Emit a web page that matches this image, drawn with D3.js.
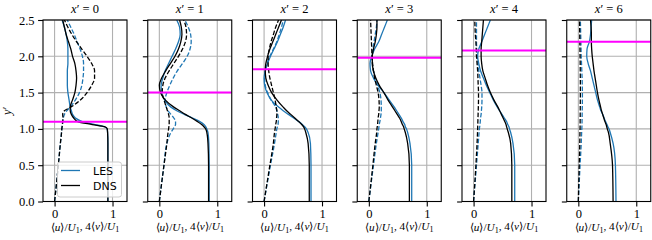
<!DOCTYPE html>
<html><head><meta charset="utf-8">
<script src="https://cdn.jsdelivr.net/npm/d3@7"></script>
<style>
html,body{margin:0;padding:0;background:#fff;}
svg{display:block;}
</style></head>
<body><div id="chart"></div>
<script>
// ---------------- data ----------------
const panelLabels = ["0", "1", "2", "3", "4", "6"];
const interfaceY = [1.10, 1.50, 1.82, 1.98, 2.08, 2.20];
const yGrid = [0, 0.5, 0.8, 0.95, 1.0, 1.03, 1.06, 1.1, 1.15, 1.2, 1.25, 1.3, 1.4, 1.5, 1.6, 1.7, 1.8, 1.9, 2.0, 2.1, 2.2, 2.3, 2.4, 2.5];
const yTicks = [0, 0.5, 1.0, 1.5, 2.0, 2.5];
const xTicks = [0, 1];

// <u>/U1, LES
const lesU = [
  [0.92,0.92,0.92,0.915,0.905,0.86,0.70,0.48,0.36,0.31,0.29,0.27,0.25,0.23,0.22,0.22,0.22,0.23,0.23,0.23,0.22,0.20,0.17,0.13],
  [0.86,0.86,0.855,0.84,0.82,0.80,0.77,0.70,0.57,0.43,0.30,0.20,0.09,0.04,0.03,0.06,0.10,0.16,0.22,0.28,0.33,0.36,0.35,0.30],
  [0.81,0.81,0.80,0.76,0.73,0.70,0.66,0.60,0.51,0.42,0.33,0.25,0.12,0.05,0.01,0.00,0.02,0.06,0.11,0.17,0.23,0.28,0.33,0.37],
  [0.74,0.74,0.71,0.67,0.65,0.63,0.62,0.59,0.56,0.52,0.48,0.44,0.35,0.26,0.16,0.08,0.03,0.02,0.05,0.10,0.17,0.22,0.27,0.32],
  [0.71,0.71,0.68,0.64,0.62,0.61,0.59,0.57,0.53,0.49,0.45,0.41,0.34,0.28,0.22,0.17,0.12,0.09,0.07,0.09,0.14,0.19,0.24,0.29],
  [0.65,0.64,0.60,0.55,0.53,0.51,0.495,0.47,0.445,0.42,0.39,0.37,0.33,0.30,0.27,0.24,0.21,0.17,0.145,0.15,0.19,0.21,0.22,0.23]
];
// 4<v>/U1, LES
const lesV = [
  [0.0,0.065,0.10,0.12,0.125,0.13,0.135,0.14,0.15,0.17,0.21,0.27,0.36,0.43,0.47,0.49,0.50,0.50,0.48,0.44,0.39,0.34,0.28,0.22],
  [0.0,0.08,0.13,0.20,0.24,0.26,0.28,0.28,0.25,0.20,0.15,0.12,0.10,0.13,0.18,0.24,0.31,0.40,0.48,0.53,0.55,0.54,0.50,0.44],
  [0.0,0.11,0.18,0.21,0.22,0.23,0.24,0.245,0.245,0.235,0.22,0.20,0.12,0.06,0.02,0.01,0.02,0.05,0.10,0.16,0.22,0.26,0.30,0.33],
  [0.0,0.08,0.13,0.16,0.17,0.175,0.18,0.19,0.20,0.21,0.215,0.215,0.21,0.19,0.15,0.11,0.08,0.06,0.06,0.07,0.09,0.11,0.13,0.14],
  [0.0,0.05,0.08,0.095,0.10,0.105,0.11,0.115,0.12,0.13,0.135,0.14,0.145,0.145,0.13,0.11,0.09,0.075,0.06,0.055,0.05,0.05,0.05,0.05],
  [0.0,0.03,0.05,0.057,0.06,0.062,0.063,0.064,0.065,0.066,0.067,0.068,0.07,0.07,0.068,0.065,0.06,0.055,0.05,0.047,0.044,0.041,0.038,0.035]
];
// <u>/U1, DNS
const dnsU = [
  [0.92,0.92,0.92,0.915,0.91,0.86,0.65,0.40,0.33,0.29,0.27,0.27,0.31,0.35,0.37,0.38,0.37,0.35,0.31,0.28,0.24,0.20,0.17,0.14],
  [0.85,0.85,0.84,0.82,0.80,0.77,0.73,0.66,0.56,0.45,0.35,0.25,0.10,0.02,0.00,0.04,0.11,0.19,0.27,0.33,0.37,0.39,0.38,0.35],
  [0.78,0.78,0.76,0.72,0.70,0.68,0.65,0.60,0.53,0.46,0.39,0.33,0.22,0.13,0.07,0.03,0.02,0.03,0.06,0.10,0.15,0.20,0.25,0.30],
  [0.70,0.70,0.67,0.63,0.61,0.60,0.58,0.56,0.53,0.49,0.45,0.41,0.33,0.26,0.18,0.12,0.08,0.06,0.06,0.08,0.11,0.13,0.14,0.14],
  [0.66,0.66,0.64,0.60,0.58,0.57,0.56,0.54,0.51,0.48,0.45,0.42,0.35,0.29,0.24,0.20,0.16,0.14,0.13,0.13,0.14,0.15,0.16,0.17],
  [0.60,0.59,0.55,0.52,0.50,0.49,0.48,0.46,0.44,0.42,0.40,0.385,0.355,0.33,0.31,0.29,0.27,0.255,0.24,0.23,0.225,0.225,0.22,0.21]
];
// 4<v>/U1, DNS
const dnsV = [
  [0.0,0.065,0.10,0.12,0.125,0.13,0.135,0.14,0.145,0.14,0.17,0.28,0.45,0.56,0.64,0.69,0.69,0.64,0.56,0.47,0.38,0.30,0.23,0.17],
  [0.0,0.08,0.13,0.15,0.16,0.165,0.17,0.17,0.17,0.16,0.14,0.12,0.08,0.05,0.06,0.10,0.17,0.25,0.33,0.40,0.45,0.47,0.46,0.42],
  [0.0,0.10,0.16,0.18,0.19,0.195,0.20,0.21,0.215,0.22,0.22,0.21,0.19,0.16,0.13,0.10,0.08,0.07,0.07,0.09,0.12,0.16,0.20,0.25],
  [0.0,0.07,0.11,0.135,0.14,0.145,0.15,0.155,0.16,0.17,0.175,0.18,0.175,0.16,0.13,0.10,0.08,0.065,0.055,0.05,0.045,0.04,0.035,0.03],
  [0.0,0.04,0.06,0.068,0.07,0.071,0.072,0.074,0.076,0.078,0.08,0.082,0.085,0.085,0.08,0.075,0.07,0.06,0.05,0.045,0.04,0.03,0.025,0.02],
  [0.0,0.015,0.025,0.028,0.03,0.03,0.031,0.031,0.032,0.032,0.033,0.033,0.034,0.035,0.035,0.034,0.033,0.032,0.03,0.028,0.026,0.024,0.022,0.02]
];

// ---------------- font pick (serif if installed) ----------------
function hasFont(name) {
  const c = document.createElement("canvas").getContext("2d");
  const s = "abcdefghijWMil0123456789.";
  const res = ["monospace", "sans-serif"].map(b => {
    c.font = `40px ${b}`; const w0 = c.measureText(s).width;
    c.font = `40px "${name}", ${b}`; const w1 = c.measureText(s).width;
    return Math.abs(w0 - w1) > 0.5;
  });
  return res[0] && res[1];
}
const serifCands = ["Liberation Serif", "DejaVu Serif", "Noto Serif", "Tinos", "FreeSerif", "Times New Roman", "Georgia"];
const serifFound = serifCands.find(hasFont);
const MATHFONT = serifFound ? `"${serifFound}", serif` : "\"DejaVu Sans\", sans-serif";
const mathSize = serifFound === "DejaVu Serif" ? 10.5 : (serifFound ? 12.5 : 11);

// ---------------- layout ----------------
const W = 652, H = 240;
const left0 = 43, step = 104.75, pw = 84, topY = 20, botY = 201.5;
const BLUE = "#1f77b4", MAG = "#ff00ff";

const svg = d3.select("#chart").append("svg").attr("width", W).attr("height", H);
const y = d3.scaleLinear().domain([0, 2.5]).range([botY, topY]);

function mathLabel(sel, parts) {
  parts.forEach(p => {
    const t = sel.append("tspan").text(p.t);
    if (p.i) t.style("font-style", "italic");
    if (p.sub) t.attr("font-size", "0.72em").attr("dy", "0.22em");
    if (p.unsub) t.attr("dy", "-0.22em");
  });
}

panelLabels.forEach((lab, k) => {
  const x0 = left0 + k * step;
  const x = d3.scaleLinear().domain([-0.2, 1.25]).range([x0, x0 + pw]);
  const g = svg.append("g");

  g.append("clipPath").attr("id", "clip" + k).append("rect")
    .attr("x", x0).attr("y", topY).attr("width", pw).attr("height", botY - topY);

  // grid
  const grid = g.append("g").attr("stroke", "#b0b0b0").attr("stroke-width", 1.1);
  xTicks.forEach(t => grid.append("line").attr("x1", x(t)).attr("x2", x(t)).attr("y1", topY).attr("y2", botY));
  yTicks.forEach(t => grid.append("line").attr("x1", x0).attr("x2", x0 + pw).attr("y1", y(t)).attr("y2", y(t)));

  const plot = g.append("g").attr("clip-path", `url(#clip${k})`);
  const line = d3.line().x(d => x(d[0])).y(d => y(d[1])).curve(d3.curveMonotoneY);
  const pts = arr => arr.map((v, i) => [v, yGrid[i]]);

  const series = [
    {d: lesU[k], c: BLUE, dash: null},
    {d: lesV[k], c: BLUE, dash: "4.5,2"},
    {d: dnsU[k], c: "#000", dash: null},
    {d: dnsV[k], c: "#000", dash: "4.5,2"}
  ];
  series.forEach(s => {
    plot.append("path").attr("d", line(pts(s.d))).attr("fill", "none")
      .attr("stroke", s.c).attr("stroke-width", 1.3)
      .attr("stroke-dasharray", s.dash);
  });

  plot.append("line").attr("x1", x0).attr("x2", x0 + pw)
    .attr("y1", y(interfaceY[k])).attr("y2", y(interfaceY[k]))
    .attr("stroke", MAG).attr("stroke-width", 2);

  // axes
  const ay = d3.axisLeft(y).tickValues(yTicks).tickSize(4.9).tickPadding(3.5)
    .tickFormat(k === 0 ? d3.format(".1f") : () => "");
  const gy = g.append("g").attr("transform", `translate(${x0},0)`).call(ay);
  const ax = d3.axisBottom(x).tickValues(xTicks).tickSize(4.9).tickPadding(2.5).tickFormat(d3.format("d"));
  const gx = g.append("g").attr("transform", `translate(0,${botY})`).call(ax);
  [gx, gy].forEach(a => {
    a.attr("font-family", MATHFONT).attr("font-size", mathSize);
    a.select(".domain").remove();
    a.selectAll(".tick line").attr("stroke", "#000").attr("stroke-width", 1.1);
    a.selectAll("text").attr("fill", "#000");
  });

  // frame
  g.append("rect").attr("x", x0).attr("y", topY).attr("width", pw).attr("height", botY - topY)
    .attr("fill", "none").attr("stroke", "#000").attr("stroke-width", 1.1);

  // title
  const tt = g.append("text").attr("font-family", MATHFONT).attr("x", x0 + pw / 2).attr("y", 12.5)
    .attr("text-anchor", "middle").attr("font-size", mathSize);
  mathLabel(tt, [{t: "x", i: true}, {t: "′ = " + lab}]);

  // x label
  const xl = g.append("text").attr("font-family", MATHFONT).attr("x", x0 + pw / 2).attr("y", 231)
    .attr("text-anchor", "middle").attr("font-size", mathSize * 0.9);
  mathLabel(xl, [{t: "⟨"}, {t: "u", i: true}, {t: "⟩/"}, {t: "U", i: true}, {t: "1", sub: true},
    {t: ", 4⟨", unsub: true}, {t: "v", i: true}, {t: "⟩/"}, {t: "U", i: true}, {t: "1", sub: true}]);
});

// y label
const yl = svg.append("text").attr("font-family", MATHFONT)
  .attr("transform", `translate(11,${(topY + botY) / 2}) rotate(-90)`)
  .attr("text-anchor", "middle").attr("font-size", mathSize);
mathLabel(yl, [{t: "y", i: true}, {t: "′"}]);

// legend
const lg = svg.append("g");
lg.append("rect").attr("x", 57.5).attr("y", 162).attr("width", 64).attr("height", 35).attr("rx", 2.5)
  .attr("fill", "#fff").attr("fill-opacity", 0.8).attr("stroke", "#cccccc").attr("stroke-width", 1);
[{n: "LES", c: BLUE, yy: 170.5}, {n: "DNS", c: "#000", yy: 185.5}].forEach(e => {
  lg.append("line").attr("x1", 61).attr("x2", 80).attr("y1", e.yy).attr("y2", e.yy)
    .attr("stroke", e.c).attr("stroke-width", 1.3);
  lg.append("text").attr("x", 93).attr("y", e.yy + 4).attr("font-family", "DejaVu Sans, sans-serif")
    .attr("font-size", 11).attr("fill", "#000").text(e.n);
});
</script></body></html>
